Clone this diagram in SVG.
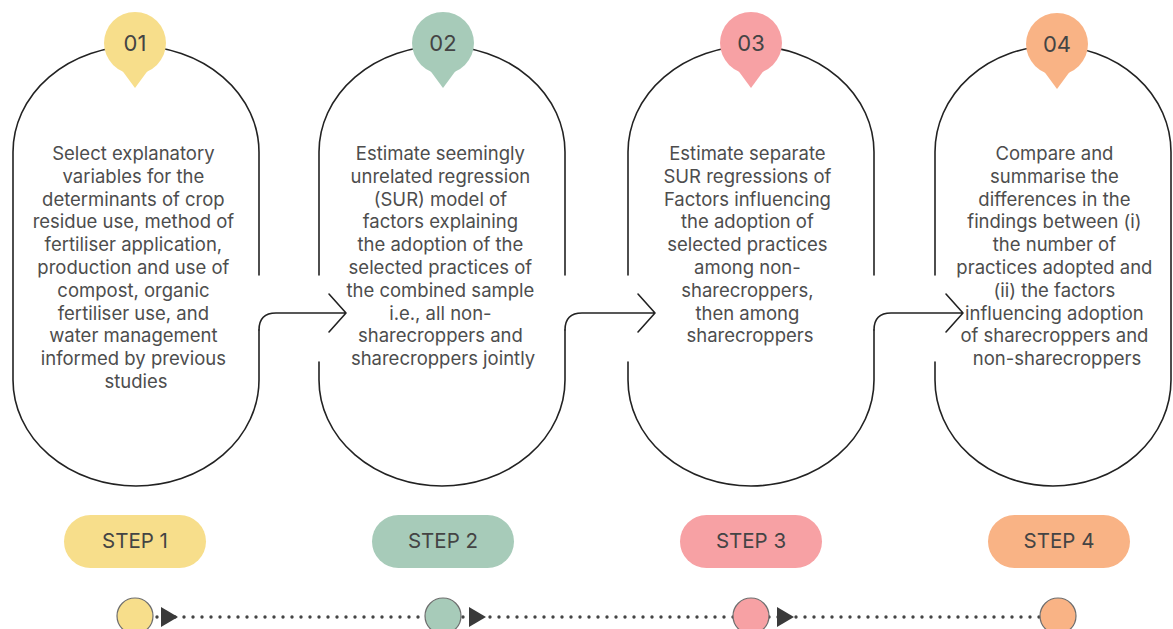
<svg xmlns="http://www.w3.org/2000/svg" width="1173" height="629" viewBox="0 0 1173 629">
<style>
  .outline{fill:none;stroke:#222;stroke-width:1.6;stroke-linecap:round;stroke-linejoin:round}
  .body{font-family:Inter,"Noto Sans","Liberation Sans",sans-serif;font-size:18.5px;fill:#4d4d4d;text-anchor:middle}
  .num{font-family:Inter,"Noto Sans","Liberation Sans",sans-serif;font-size:22px;fill:#444;text-anchor:middle}
  .step{font-family:Inter,"Noto Sans","Liberation Sans",sans-serif;font-size:20.5px;fill:#444;text-anchor:middle}
  .c1{fill:#F7DE8B}.c2{fill:#A7CBB9}.c3{fill:#F7A1A4}.c4{fill:#F9B385}
  .dot{stroke:#6e6e6e;stroke-width:1.2}
  .tri{fill:#3a3a3a}
</style>
<defs>
  <g id="pin"><circle cx="0" cy="0" r="31"/><path d="M-14,26 L0,45 L14,26 Z"/></g>
</defs>

<g id="connectors">
  <path class="outline" d="M259,330 Q259,313 276,313 L346,313 M329,294 L346,313 L329,332"/>
  <path class="outline" d="M565,330 Q565,313 582,313 L655,313 M638,294 L655,313 L638,332"/>
  <path class="outline" d="M874,330 Q874,313 891,313 L963,313 M946,294 L963,313 L946,332"/>
  <line x1="157" y1="617" x2="1040" y2="617" stroke="#444" stroke-width="3.4" stroke-linecap="round" stroke-dasharray="0 9"/>
  <polygon class="tri" points="161,607 178,617 161,627"/>
  <polygon class="tri" points="469,607 486,617 469,627"/>
  <polygon class="tri" points="777,607 794,617 777,627"/>
</g>

<g id="node1">
  <path class="outline" d="M259,275 L259,152 A123,106 0 0 0 13,152 L13,380 A123,106 0 0 0 259,380 L259,330"/>
  <use href="#pin" class="c1" x="135" y="43"/>
  <text class="num" x="135" y="51">01</text>
  <text class="body">
    <tspan x="136" y="160">Select explanatory</tspan>
    <tspan x="136" y="182.8">variables for the</tspan>
    <tspan x="136" y="205.6">determinants of crop</tspan>
    <tspan x="136" y="228.4">residue use, method of</tspan>
    <tspan x="136" y="251.2">fertiliser application,</tspan>
    <tspan x="136" y="274">production and use of</tspan>
    <tspan x="136" y="296.8">compost, organic</tspan>
    <tspan x="136" y="319.6">fertiliser use, and</tspan>
    <tspan x="136" y="342.4">water management</tspan>
    <tspan x="136" y="365.2">informed by previous</tspan>
    <tspan x="136" y="388">studies</tspan>
  </text>
  <rect class="c1" x="64" y="515" width="142" height="53" rx="26.5"/>
  <text class="step" x="135" y="548">STEP 1</text>
</g>

<g id="node2">
  <path class="outline" d="M565,275 L565,152 A123,106 0 0 0 319,152 L319,275 M319,362 L319,380 A123,106 0 0 0 565,380 L565,330"/>
  <use href="#pin" class="c2" x="443" y="43"/>
  <text class="num" x="443" y="51">02</text>
  <text class="body">
    <tspan x="443" y="160">Estimate seemingly</tspan>
    <tspan x="443" y="182.8">unrelated regression</tspan>
    <tspan x="443" y="205.6">(SUR) model of</tspan>
    <tspan x="443" y="228.4">factors explaining</tspan>
    <tspan x="443" y="251.2">the adoption of the</tspan>
    <tspan x="443" y="274">selected practices of</tspan>
    <tspan x="443" y="296.8">the combined sample</tspan>
    <tspan x="443" y="319.6">i.e., all non-</tspan>
    <tspan x="443" y="342.4">sharecroppers and</tspan>
    <tspan x="443" y="365.2">sharecroppers jointly</tspan>
  </text>
  <rect class="c2" x="372" y="515" width="142" height="53" rx="26.5"/>
  <text class="step" x="443" y="548">STEP 2</text>
</g>

<g id="node3">
  <path class="outline" d="M874,275 L874,152 A123,106 0 0 0 628,152 L628,275 M628,362 L628,380 A123,106 0 0 0 874,380 L874,330"/>
  <use href="#pin" class="c3" x="751" y="43"/>
  <text class="num" x="751" y="51">03</text>
  <text class="body">
    <tspan x="750" y="160">Estimate separate</tspan>
    <tspan x="750" y="182.8">SUR regressions of</tspan>
    <tspan x="750" y="205.6">Factors influencing</tspan>
    <tspan x="750" y="228.4">the adoption of</tspan>
    <tspan x="750" y="251.2">selected practices</tspan>
    <tspan x="750" y="274">among non-</tspan>
    <tspan x="750" y="296.8">sharecroppers,</tspan>
    <tspan x="750" y="319.6">then among</tspan>
    <tspan x="750" y="342.4">sharecroppers</tspan>
  </text>
  <rect class="c3" x="680" y="515" width="142" height="53" rx="26.5"/>
  <text class="step" x="751" y="548">STEP 3</text>
</g>

<g id="node4">
  <path class="outline" d="M935,275 L935,152 A118,106 0 0 1 1171,152 L1171,380 A118,106 0 0 1 935,380 L935,362"/>
  <use href="#pin" class="c4" x="1057" y="44"/>
  <text class="num" x="1057" y="52">04</text>
  <text class="body">
    <tspan x="1057" y="160">Compare and</tspan>
    <tspan x="1057" y="182.8">summarise the</tspan>
    <tspan x="1057" y="205.6">differences in the</tspan>
    <tspan x="1057" y="228.4">findings between (i)</tspan>
    <tspan x="1057" y="251.2">the number of</tspan>
    <tspan x="1057" y="274">practices adopted and</tspan>
    <tspan x="1057" y="296.8">(ii) the factors</tspan>
    <tspan x="1057" y="319.6">influencing adoption</tspan>
    <tspan x="1057" y="342.4">of sharecroppers and</tspan>
    <tspan x="1057" y="365.2">non-sharecroppers</tspan>
  </text>
  <rect class="c4" x="988" y="515" width="142" height="53" rx="26.5"/>
  <text class="step" x="1059" y="548">STEP 4</text>
</g>

<g id="timeline1"><circle class="c1 dot" cx="135" cy="616" r="18"/></g>
<g id="timeline2"><circle class="c2 dot" cx="443" cy="616" r="18"/></g>
<g id="timeline3"><circle class="c3 dot" cx="751" cy="616" r="18"/></g>
<g id="timeline4"><circle class="c4 dot" cx="1058" cy="616" r="18"/></g>
</svg>
